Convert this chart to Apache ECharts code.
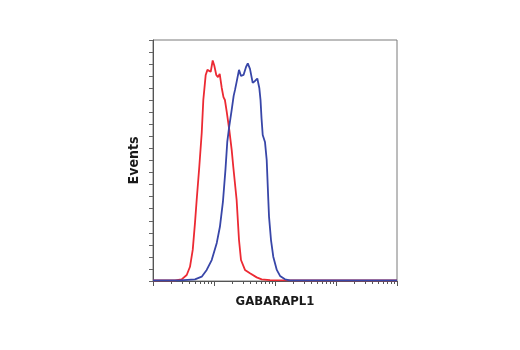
<!DOCTYPE html>
<html>
<head>
<meta charset="utf-8">
<script src="https://cdn.jsdelivr.net/npm/echarts@6/dist/echarts.min.js"></script>
<style>html,body{margin:0;padding:0;background:#fff;}#c{width:520px;height:350px;}</style>
</head>
<body>
<div id="c"></div>
<script>
// GABARAPL1 fluorescence intensity (log scale) vs Events (% of max)
var xTitle = 'GABARAPL1';
var yTitle = 'Events';
var xRange = [1, 10000];
var yRange = [0, 100];

// Red histogram (control)
var redX = [1, 2.3, 2.95, 3.57, 4.04, 4.48, 4.88, 5.2, 5.74, 6.29, 6.68, 6.93, 7.31, 7.8, 8.37, 8.83, 9.52, 10.1, 10.9, 11.6, 12.4, 13.4, 14.3, 15.1, 16.2, 17.8, 19.5, 20.7, 23.5, 25.7, 27.7, 32.2, 38.9, 50.1, 60.5, 82.8, 257, 10000];
var redY = [0.3, 0.3, 0.7, 2.5, 5.9, 12.9, 24.1, 33.6, 47.4, 61.4, 75.1, 79.3, 85.5, 87.6, 88.3, 86.8, 91.5, 89.4, 85.5, 84.6, 85.9, 80.1, 76.3, 75.1, 70.1, 62.7, 54.4, 47.4, 33.6, 17.0, 8.7, 4.6, 3.2, 1.5, 0.7, 0.4, 0.3, 0.3];

// Blue histogram (GABARAPL1 stained)
var blueX = [1, 2.77, 4.88, 6.29, 7.59, 9.17, 11.1, 12.5, 14.0, 15.4, 16.5, 17.8, 19.5, 21.0, 22.1, 23.5, 25.7, 27.7, 30.5, 33.5, 35.8, 38.9, 43.1, 47.0, 51.3, 55.3, 57.9, 60.1, 62.9, 68.5, 73.1, 77.7, 79.8, 86.0, 93.7, 107, 121, 146, 176, 10000];
var blueY = [0.3, 0.3, 0.7, 1.8, 4.6, 8.7, 15.8, 22.5, 32.8, 46.1, 57.7, 64.3, 71.0, 76.8, 79.3, 82.6, 87.6, 85.1, 85.5, 88.8, 90.3, 88.0, 82.2, 83.0, 84.0, 80.1, 75.1, 67.6, 60.6, 57.7, 50.2, 33.6, 26.7, 17.0, 10.1, 4.6, 2.1, 0.7, 0.3, 0.3];

function pairs(xs, ys) { return xs.map(function (x, i) { return [x, ys[i]]; }); }

var titleFont = 'DejaVu Sans Condensed, Liberation Sans Narrow, Liberation Sans, Arial';
var chart = echarts.init(document.getElementById('c'), null, { renderer: 'canvas' });
chart.setOption({
  animation: false,
  backgroundColor: '#fff',
  grid: { left: 153, top: 40, right: 123, bottom: 69, show: true, borderColor: '#7a7a7a', borderWidth: 1, backgroundColor: 'transparent' },
  xAxis: {
    type: 'log', logBase: 10, min: xRange[0], max: xRange[1],
    name: xTitle, nameLocation: 'middle', nameGap: 14,
    nameTextStyle: { fontFamily: titleFont, fontWeight: 'bold', fontSize: 13, color: '#1a1a1a' },
    axisLine: { show: true, onZero: false, lineStyle: { color: '#555', width: 1 } },
    axisTick: { show: true, inside: false, length: 5, lineStyle: { color: '#555' } },
    minorTick: { show: true, splitNumber: 9, length: 3, lineStyle: { color: '#555' } },
    axisLabel: { show: false },
    splitLine: { show: false }, minorSplitLine: { show: false }
  },
  yAxis: {
    type: 'value', min: yRange[0], max: yRange[1], interval: 5,
    name: yTitle, nameLocation: 'middle', nameGap: 12, nameRotate: 90,
    nameTextStyle: { fontFamily: titleFont, fontWeight: 'bold', fontSize: 14, color: '#1a1a1a' },
    axisLine: { show: true, lineStyle: { color: '#555', width: 1 } },
    axisTick: { show: true, inside: false, length: 4, lineStyle: { color: '#666' } },
    axisLabel: { show: false },
    splitLine: { show: false }
  },
  series: [
    { type: 'line', data: pairs(redX, redY), showSymbol: false, symbol: 'none', smooth: false,
      lineStyle: { color: '#ec2a33', width: 1.8 }, z: 2 },
    { type: 'line', data: pairs(blueX, blueY), showSymbol: false, symbol: 'none', smooth: false,
      lineStyle: { color: '#3846a8', width: 1.8 }, z: 3 }
  ]
});
</script>
</body>
</html>
